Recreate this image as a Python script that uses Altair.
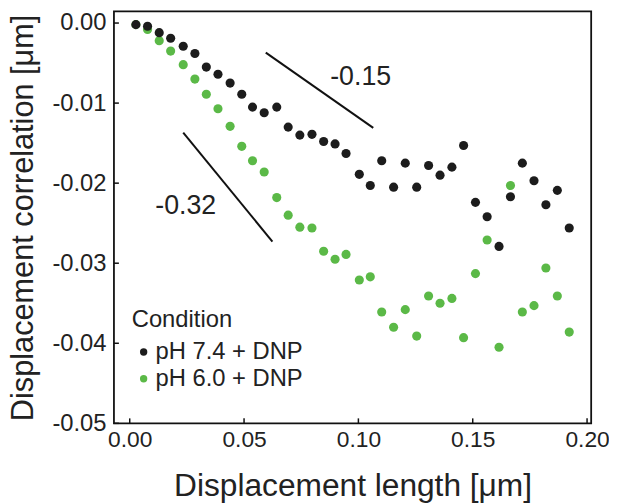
import altair as alt
import pandas as pd

# Displacement length [um] (shared by both conditions)
x_vals = [0.0027, 0.0078, 0.0129, 0.0179, 0.0234, 0.0285, 0.0335, 0.0386, 0.0439, 0.0490,
          0.0537, 0.0588, 0.0643, 0.0693, 0.0744, 0.0797, 0.0848, 0.0898, 0.0946, 0.1004,
          0.1052, 0.1102, 0.1154, 0.1205, 0.1255, 0.1307, 0.1357, 0.1409, 0.1460, 0.1512,
          0.1563, 0.1615, 0.1665, 0.1717, 0.1768, 0.1820, 0.1870, 0.1922]

black_y = [-0.0002, -0.0004, -0.0012, -0.0019, -0.0029, -0.0038, -0.0055, -0.0064, -0.0075, -0.0089,
           -0.0105, -0.0112, -0.0105, -0.0130, -0.0140, -0.0139, -0.0148, -0.0151, -0.0163, -0.0189,
           -0.0203, -0.0172, -0.0205, -0.0175, -0.0205, -0.0178, -0.0190, -0.0180, -0.0153, -0.0224,
           -0.0242, -0.0279, -0.0217, -0.0175, -0.0197, -0.0227, -0.0209, -0.0256]

green_y = [-0.0002, -0.0008, -0.0022, -0.0035, -0.0052, -0.0070, -0.0089, -0.0107, -0.0129, -0.0154,
           -0.0172, -0.0186, -0.0218, -0.0240, -0.0255, -0.0256, -0.0285, -0.0295, -0.0289, -0.0321,
           -0.0317, -0.0361, -0.0380, -0.0358, -0.0391, -0.0341, -0.0350, -0.0344, -0.0393, -0.0313,
           -0.0271, -0.0405, -0.0203, -0.0361, -0.0353, -0.0306, -0.0341, -0.0386]

conditions = ["pH 7.4 + DNP", "pH 6.0 + DNP"]
colors = ["#1c1c1c", "#5bb947"]

x_ticks = [0.0, 0.05, 0.10, 0.15, 0.20]
y_ticks = [0.0, -0.01, -0.02, -0.03, -0.04, -0.05]

# slope guide lines and their labels
guide_x = [0.0595, 0.0234]
guide_y = [-0.0037, -0.0137]
guide_x2 = [0.1065, 0.0624]
guide_y2 = [-0.0131, -0.0273]
guide_label = ["-0.15", "-0.32"]
label_x = [0.1010, 0.0245]
label_y = [-0.0077, -0.0238]

W, H = 482, 416
X_DOM = [-0.0069, 0.2018]
Y_DOM = [-0.05, 0.00145]
FONT = "Liberation Sans"
TXT = "#222222"
LBL = "datum.value < 0 ? '-' + format(-datum.value, '.2f') : format(datum.value, '.2f')"

rows = []
for xv, yv in zip(x_vals, green_y):
    rows.append({"x": xv, "y": yv, "Condition": conditions[1], "o": 0})
for xv, yv in zip(x_vals, black_y):
    rows.append({"x": xv, "y": yv, "Condition": conditions[0], "o": 1})
df = pd.DataFrame(rows)

xs = alt.Scale(domain=X_DOM, nice=False, zero=False)
ys = alt.Scale(domain=Y_DOM, nice=False, zero=False)

points = alt.Chart(df).mark_circle(size=85, opacity=1).encode(
    x=alt.X("x:Q", scale=xs,
            axis=alt.Axis(title="Displacement length [μm]", values=x_ticks, labelExpr=LBL,
                          ticks=False, domain=False, grid=False, labelPadding=5,
                          labelFontSize=23, titlePadding=20, titleFontSize=32)),
    y=alt.Y("y:Q", scale=ys,
            axis=alt.Axis(title="Displacement correlation [μm]", values=y_ticks, labelExpr=LBL,
                          ticks=False, domain=False, grid=False, labelPadding=8,
                          titlePadding=13, titleFontSize=31)),
    color=alt.Color("Condition:N",
                    scale=alt.Scale(domain=conditions, range=colors),
                    legend=alt.Legend(orient="none", legendX=18, legendY=300,
                                      title="Condition", titleFontSize=24,
                                      titleFontWeight="normal", titleFont=FONT,
                                      titleColor=TXT, labelFontSize=24, labelFont=FONT,
                                      labelColor=TXT, symbolSize=55, symbolType="circle",
                                      symbolStrokeWidth=0, labelOffset=0, rowPadding=3,
                                      titlePadding=8, padding=0, symbolOffset=0)),
    order=alt.Order("o:Q"),
)

gdf = pd.DataFrame({"x": guide_x, "y": guide_y, "x2": guide_x2, "y2": guide_y2})
guides = alt.Chart(gdf).mark_rule(color="#111111", strokeWidth=2).encode(
    x=alt.X("x:Q", scale=xs), y=alt.Y("y:Q", scale=ys), x2="x2:Q", y2="y2:Q")

ldf = pd.DataFrame({"x": label_x, "y": label_y, "t": guide_label})
labels = alt.Chart(ldf).mark_text(fontSize=27, font=FONT, color=TXT,
                                  align="center", baseline="alphabetic").encode(
    x=alt.X("x:Q", scale=xs), y=alt.Y("y:Q", scale=ys), text="t:N")

ytdf = pd.DataFrame({"v": y_ticks})
yt = alt.Chart(ytdf).mark_rule(color="#111111", strokeWidth=1.5).encode(
    y=alt.Y("v:Q", scale=ys), x=alt.value(0), x2=alt.value(5))
xtdf = pd.DataFrame({"v": x_ticks})
xt = alt.Chart(xtdf).mark_rule(color="#111111", strokeWidth=1.5).encode(
    x=alt.X("v:Q", scale=xs), y=alt.value(H), y2=alt.value(H - 5))

chart = alt.layer(points, guides, labels, yt, xt).properties(
    width=W, height=H,
    autosize=alt.AutoSizeParams(type="none"),
    padding={"left": 107, "top": 1, "right": 18, "bottom": 78},
).configure_view(
    stroke="#111111", strokeWidth=1.8
).configure_axis(
    labelFont=FONT, labelFontSize=24, labelColor=TXT,
    titleFont=FONT, titleFontWeight="normal", titleColor=TXT,
)

chart.save("out.html", embed_options={"renderer": "svg", "actions": False})
